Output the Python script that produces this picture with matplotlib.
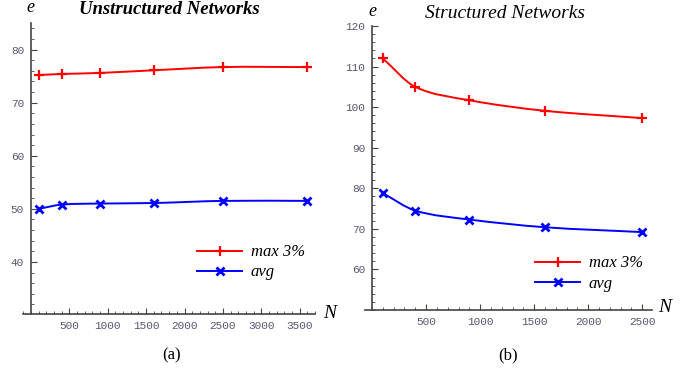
import matplotlib
matplotlib.use("Agg")
import matplotlib.pyplot as plt
from matplotlib.path import Path
from matplotlib.patches import PathPatch
from matplotlib.lines import Line2D
from matplotlib.ticker import MultipleLocator

# data
n_unstr = [100, 400, 900, 1600, 2500, 3600]
max_unstr = [75.2, 75.4, 75.6, 76.1, 76.7, 76.7]
avg_unstr = [50.0, 50.8, 51.0, 51.1, 51.5, 51.5]

n_str = [100, 400, 900, 1600, 2500]
max_str = [112.0, 105.0, 101.7, 99.1, 97.3]
avg_str = [78.8, 74.5, 72.3, 70.4, 69.2]

RED = (1, 0, 0)
BLUE = (0, 0, 1)
AX_COL = "#444444"
TICK_COL = "#5a5570"
SERIF = "Liberation Serif"
LW = 1.4


def smooth_path(x, y):
    # cubic bezier through the points (drawing style only)
    n = len(x)
    m = []
    for i in range(n):
        if i == 0:
            m.append((y[1] - y[0]) / (x[1] - x[0]))
        elif i == n - 1:
            m.append((y[-1] - y[-2]) / (x[-1] - x[-2]))
        else:
            m.append((y[i + 1] - y[i - 1]) / (x[i + 1] - x[i - 1]))
    verts = [(x[0], y[0])]
    codes = [Path.MOVETO]
    for i in range(n - 1):
        dx = (x[i + 1] - x[i]) / 3
        verts += [(x[i] + dx, y[i] + m[i] * dx),
                  (x[i + 1] - dx, y[i + 1] - m[i + 1] * dx),
                  (x[i + 1], y[i + 1])]
        codes += [Path.CURVE4] * 3
    return Path(verts, codes)


def draw_series(ax, x, y, color, marker, ms, mew):
    ax.add_patch(PathPatch(smooth_path(x, y), facecolor="none",
                           edgecolor=color, lw=LW, zorder=3))
    ax.plot(x, y, linestyle="none", marker=marker, ms=ms, mew=mew,
            color=color, zorder=4)


def style_axis(ax, xlim, ylim, xticks, yticks):
    ax.set_xlim(*xlim)
    ax.set_ylim(*ylim)
    for s in ["top", "right"]:
        ax.spines[s].set_visible(False)
    ax.spines["left"].set_position(("data", 0))
    for s in ["left", "bottom"]:
        ax.spines[s].set_color(AX_COL)
        ax.spines[s].set_linewidth(1.2)
    ax.set_xticks(xticks)
    ax.set_yticks(yticks)
    ax.xaxis.set_minor_locator(MultipleLocator(100))
    ax.yaxis.set_minor_locator(MultipleLocator(2))
    ax.tick_params(which="major", direction="in", length=4, width=0.8,
                   color=AX_COL, labelsize=8, labelcolor=TICK_COL, pad=5)
    ax.tick_params(which="minor", direction="in", length=2, width=0.6,
                   color=AX_COL)
    for lab in ax.get_xticklabels() + ax.get_yticklabels():
        lab.set_family("Liberation Mono")
    ax.patch.set_visible(False)


fig = plt.figure(figsize=(6.97, 3.75), dpi=100)

ax1 = fig.add_axes([23 / 697, 1 - 314 / 375, 292 / 697, 291 / 375])
draw_series(ax1, n_unstr, max_unstr, RED, "+", 7.5, 1.6)
draw_series(ax1, n_unstr, avg_unstr, BLUE, "x", 5.5, 2.0)
style_axis(ax1, (-104, 3700), (30.2, 85),
           [500, 1000, 1500, 2000, 2500, 3000, 3500], [40, 50, 60, 70, 80])

ax2 = fig.add_axes([365 / 697, 1 - 310 / 375, 287 / 697, 284 / 375])
draw_series(ax2, n_str, max_str, RED, "+", 7.5, 1.6)
draw_series(ax2, n_str, avg_str, BLUE, "x", 5.5, 2.0)
style_axis(ax2, (-65, 2590), (50, 120),
           [500, 1000, 1500, 2000, 2500], [60, 70, 80, 90, 100, 110, 120])

handles = [Line2D([], [], color=RED, lw=LW, marker="+", ms=7.5, mew=1.6),
           Line2D([], [], color=BLUE, lw=LW, marker="x", ms=5.5, mew=2.0)]
labels = ["max 3%", "avg"]
for ax, (lx, ly) in [(ax1, (189, 236)), (ax2, (527, 247))]:
    ax.legend(handles, labels, loc="upper left",
              bbox_to_anchor=(lx / 697, 1 - ly / 375),
              bbox_transform=fig.transFigure, frameon=False, borderpad=0,
              handlelength=2.7, handletextpad=0.5, labelspacing=0.25,
              prop={"family": SERIF, "style": "italic", "size": 12})

# axis letters, titles, captions
fig.text(30 / 697, 1 - 8 / 375, "e", family=SERIF, style="italic",
         size=13, ha="center", va="center")
fig.text(372 / 697, 1 - 11 / 375, "e", family=SERIF, style="italic",
         size=13, ha="center", va="center")
fig.text(330 / 697, 1 - 313 / 375, "N", family=SERIF, style="italic",
         size=14, ha="center", va="center")
fig.text(665 / 697, 1 - 308 / 375, "N", family=SERIF, style="italic",
         size=14, ha="center", va="center")
fig.text(169 / 697, 1 - 10 / 375, "Unstructured Networks", family=SERIF,
         style="italic", weight="bold", size=13.5, ha="center", va="center")
fig.text(505 / 697, 1 - 13 / 375, "Structured Networks", family=SERIF,
         style="italic", size=14, ha="center", va="center")
fig.text(172 / 697, 1 - 355 / 375, "(a)", family=SERIF, size=12,
         ha="center", va="center")
fig.text(508 / 697, 1 - 355 / 375, "(b)", family=SERIF, size=12,
         ha="center", va="center")

fig.savefig("out.png", dpi=100)
